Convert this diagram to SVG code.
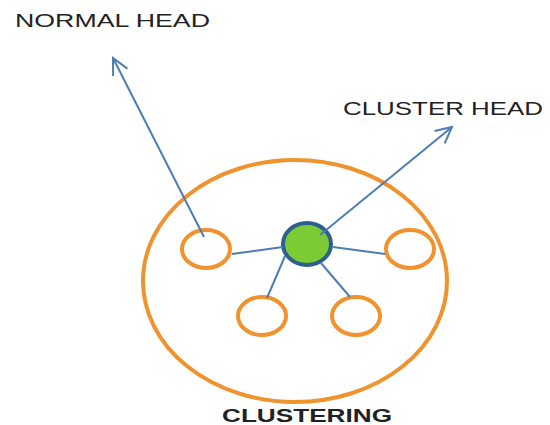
<svg xmlns="http://www.w3.org/2000/svg" width="550" height="425" viewBox="0 0 550 425">
<style>
.lbl{font-family:"Liberation Sans",Arial,sans-serif;fill:#222;font-size:18px}
.bold{font-weight:bold;font-size:19px}
.node{fill:#fff;stroke:#f0922e;stroke-width:4}
.edge{stroke:#4c7db3;stroke-width:2;fill:none}
</style>
<defs>
<marker id="arr" viewBox="0 0 20 20" refX="18" refY="10" markerWidth="20" markerHeight="20" markerUnits="userSpaceOnUse" orient="auto">
<path d="M2,2 L18,10 L2,18" fill="none" stroke="#4c7db3" stroke-width="2"/>
</marker>
</defs>
<rect width="550" height="425" fill="#fff"/>
<g id="cluster"><ellipse cx="295" cy="281" rx="152" ry="121" fill="none" stroke="#f0922e" stroke-width="4"/></g>
<g id="n-left"><ellipse class="node" cx="206" cy="249" rx="24" ry="19"/></g>
<g id="n-right"><ellipse class="node" cx="410" cy="249" rx="24" ry="19"/></g>
<g id="n-bl"><ellipse class="node" cx="262" cy="316" rx="24" ry="19"/></g>
<g id="n-br"><ellipse class="node" cx="356" cy="316" rx="24" ry="19"/></g>
<g id="head"><ellipse cx="307" cy="244" rx="24" ry="21" fill="#7ccb34" stroke="#2f5f8f" stroke-width="4"/></g>
<g id="connectors">
<line class="edge" x1="232" y1="254" x2="283" y2="247"/>
<line class="edge" x1="333" y1="247" x2="385" y2="254"/>
<line class="edge" x1="285" y1="256" x2="267" y2="298"/>
<line class="edge" x1="321" y1="263" x2="350" y2="297"/>
<line class="edge" x1="204" y1="237" x2="113" y2="58" marker-end="url(#arr)"/>
<line class="edge" x1="320" y1="235" x2="452" y2="127" marker-end="url(#arr)"/>
</g>
<g id="labels">
<text class="lbl" x="15" y="27" textLength="195" lengthAdjust="spacingAndGlyphs">NORMAL HEAD</text>
<text class="lbl" x="343" y="115" textLength="200" lengthAdjust="spacingAndGlyphs">CLUSTER HEAD</text>
<text class="lbl bold" x="222" y="422" textLength="170" lengthAdjust="spacingAndGlyphs">CLUSTERING</text>
</g>
</svg>
